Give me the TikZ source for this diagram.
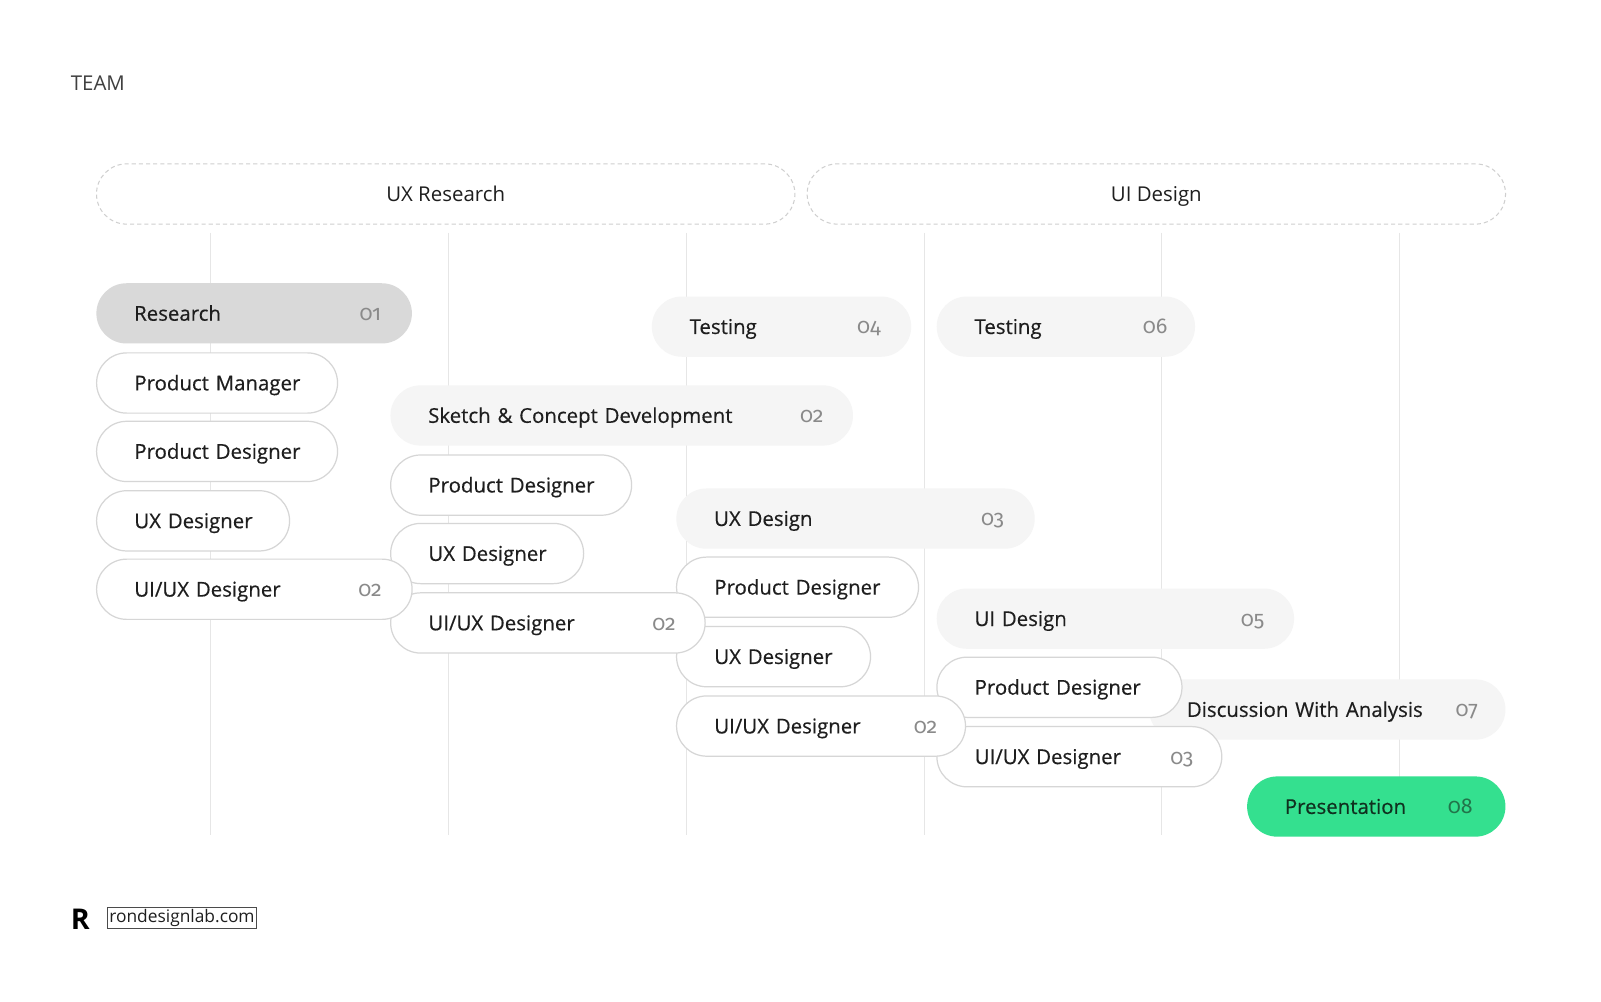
\documentclass[tikz,border=0pt]{standalone}
\usepackage{fontspec}
\setmainfont{Open Sans}
\newfontfamily\pillfont{Open Sans}[FakeBold=0.4]
\newfontfamily\numfont{Fira Sans}[Numbers=OldStyle]
\usepackage{tikz}
\usepackage{xcolor}
\definecolor{ink}{HTML}{1E1E1E}
\definecolor{numgray}{HTML}{8A8A8A}
\definecolor{pillline}{HTML}{D6D6D6}
\definecolor{phasefill}{HTML}{F5F5F5}
\definecolor{headfill}{HTML}{D9D9D9}
\definecolor{gridgray}{HTML}{E6E6E6}
\definecolor{dashgray}{HTML}{CFCFCF}
\definecolor{presgreen}{HTML}{34E08F}
\definecolor{presink}{HTML}{10301F}
\definecolor{presnum}{HTML}{22744A}
\tikzset{
    pill/.style = {rectangle, rounded corners=14.75pt, minimum height=29.5pt, minimum width=#1*0.5pt, text width=#1*0.5pt-37pt, inner xsep=18.5pt, inner ysep=0pt, text height=0.96em, text depth=0.24em, align=left, anchor=north west, font=\pillfont\fontsize{10}{12}\selectfont, text=ink, execute at begin node={\leavevmode\hbox\bgroup}, execute at end node={\egroup}},
    role/.style = {pill=#1, fill=white, draw=pillline, line width=0.6pt},
    phase/.style = {pill=#1, fill=phasefill},
    num/.style = {anchor=base east, inner sep=0pt, font=\numfont\fontsize{10.5}{12}\selectfont, text=numgray},
    group/.style = {rectangle, rounded corners=14.75pt, minimum height=29.5pt, minimum width=342pt, text height=0.96em, text depth=0.24em, anchor=north west, draw=dashgray, line width=0.5pt, dash pattern=on 2pt off 1.5pt, font=\fontsize{10}{12}\selectfont, text=ink},
    gridline/.style = {draw=gridgray, line width=0.5pt},
}

\begin{document}
\begin{tikzpicture}[x=0.5pt, y=-0.5pt]
\fill[white] (0,0) rectangle (1568,980.4);
\useasboundingbox (0,0) rectangle (1568,980.4);

% title and phases
\node[anchor=west, inner sep=0pt, font=\fontsize{10}{12}\selectfont, text=ink!85] (team) at (69,81) {TEAM};
\node[group] (uxresearch) at (94,160) {UX Research};
\node[group] (uidesign) at (790,160) {UI Design};

\foreach \x in {206,439,672,905,1138,1371}
    \draw[gridline] (\x,228) -- (\x,818);

% last steps
\node[pill=253, fill=presgreen, text=presink] (pres) at (1221,760) {Presentation};
\node[num, text=presnum] (pres-n) at ([xshift=-16pt]pres.base east) {08};
\node[phase=349] (disc) at (1125,665) {Discussion With Analysis};
\node[num] (disc-n) at ([xshift=-13.5pt]disc.base east) {07};

% column 4
\node[phase=253] (test6) at (917,290) {Testing};
\node[num] (test6-n) at ([xshift=-13.5pt]test6.base east) {06};
\node[phase=350] (uid) at (917,576) {UI Design};
\node[num] (uid-n) at ([xshift=-14.5pt]uid.base east) {05};
\node[role=240] (pd4) at (917,643) {Product Designer};
\node[role=279] (uiux4) at (917,711) {UI/UX Designer};
\node[num] (uiux4-n) at ([xshift=-14pt]uiux4.base east) {03};

% column 3
\node[phase=254] (test4) at (638,290) {Testing};
\node[num] (test4-n) at ([xshift=-15pt]test4.base east) {04};
\node[phase=351] (uxd) at (662,478) {UX Design};
\node[num] (uxd-n) at ([xshift=-15pt]uxd.base east) {03};
\node[role=237] (pd3) at (662,545) {Product Designer};
\node[role=190] (ux3) at (662,613) {UX Designer};
\node[role=283] (uiux3) at (662,681) {UI/UX Designer};
\node[num] (uiux3-n) at ([xshift=-14pt]uiux3.base east) {02};

% column 2
\node[phase=453] (sketch) at (382,377) {Sketch \& Concept Development};
\node[num] (sketch-n) at ([xshift=-14.5pt]sketch.base east) {02};
\node[role=236] (pd2) at (382,445) {Product Designer};
\node[role=189] (ux2) at (382,512) {UX Designer};
\node[role=308] (uiux2) at (382,580) {UI/UX Designer};
\node[num] (uiux2-n) at ([xshift=-14.5pt]uiux2.base east) {02};

% column 1
\node[pill=309, fill=headfill] (research) at (94,277) {Research};
\node[num] (research-n) at ([xshift=-15pt]research.base east) {01};
\node[role=236] (pm1) at (94,345) {Product Manager};
\node[role=236] (pd1) at (94,412) {Product Designer};
\node[role=189] (ux1) at (94,480) {UX Designer};
\node[role=309] (uiux1) at (94,547) {UI/UX Designer};
\node[num] (uiux1-n) at ([xshift=-15pt]uiux1.base east) {02};

% footer
\node[anchor=west, inner sep=0pt, font=\fontsize{14}{14}\selectfont\bfseries] (logo) at (69,900) {R};
\node[anchor=west, draw=ink!80, line width=0.5pt, inner sep=0.8pt, font=\fontsize{8.5}{10}\selectfont, text=ink] (site) at (105,899) {rondesignlab.com};
\end{tikzpicture}
\end{document}
